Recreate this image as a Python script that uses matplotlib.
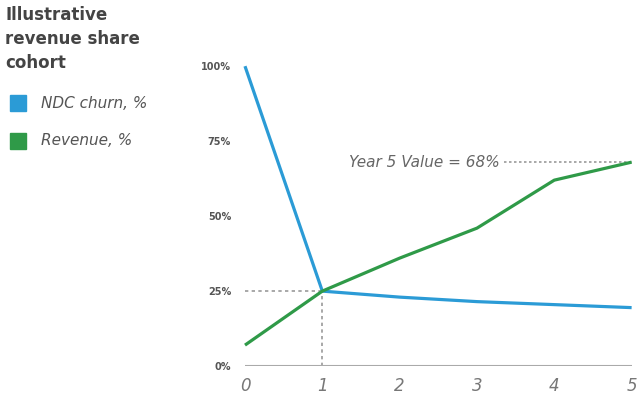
import matplotlib
matplotlib.use("Agg")
import matplotlib.pyplot as plt
from matplotlib.patches import Rectangle

YEARS = [0, 1, 2, 3, 4, 5]
CHURN = [100, 25, 23, 21.5, 20.5, 19.5]
REVENUE = [7, 25, 36, 46, 62, 68]
Y_TICKS = [0, 25, 50, 75, 100]
TITLE = "Illustrative\nrevenue share\ncohort"
SERIES_LABELS = ["NDC churn, %", "Revenue, %"]
NOTE = "Year 5 Value = 68%"

BLUE = "#2b9bd6"
GREEN = "#2f9a48"

fig = plt.figure(figsize=(6.38, 4.01), dpi=100)
ax = fig.add_axes([0.384, 0.087, 0.606, 0.748])

ax.plot(YEARS, CHURN, color=BLUE, lw=2.3, clip_on=False, solid_capstyle="butt", zorder=3)
ax.plot(YEARS, REVENUE, color=GREEN, lw=2.3, clip_on=False, solid_capstyle="butt", zorder=4)

# guide lines
ax.plot([0, 1], [25, 25], ls=(0, (2, 2)), color="#999999", lw=1.2, zorder=1)
ax.plot([1, 1], [0, 25], ls=(0, (2, 2)), color="#999999", lw=1.2, zorder=1)
ax.plot([3.35, 5], [68, 68], ls=(0, (1.5, 1.5)), color="#999999", lw=1.2, zorder=1)
ax.text(3.29, 68, NOTE, ha="right", va="center", fontsize=11, style="italic",
        color="#666666")

ax.axhline(0, color="#aaaaaa", lw=1.5, zorder=2)

ax.set_xlim(0, 5)
ax.set_ylim(0, 100)
for s in ax.spines.values():
    s.set_visible(False)
ax.set_yticks(Y_TICKS)
ax.set_yticklabels([f"{v}%" for v in Y_TICKS], fontsize=7, fontweight="bold", color="#555555")
ax.set_xticks(YEARS)
ax.set_xticklabels([str(v) for v in YEARS], fontsize=12, style="italic", color="#777777")
ax.tick_params(axis="both", length=0)
ax.tick_params(axis="y", pad=10)
ax.tick_params(axis="x", pad=8)

# title and legend at left
fig.text(0.008, 0.985, TITLE, ha="left", va="top", fontsize=12, fontweight="bold",
         color="#444444", linespacing=1.42)
for i, (lab, col) in enumerate(zip(SERIES_LABELS, [BLUE, GREEN])):
    y = 0.742 - i * 0.093
    fig.patches.append(Rectangle((0.016, y - 0.02), 0.025, 0.04, transform=fig.transFigure,
                                 color=col))
    fig.text(0.065, y, lab, ha="left", va="center", fontsize=11, style="italic",
             color="#555555")

fig.savefig("out.png", dpi=100)
